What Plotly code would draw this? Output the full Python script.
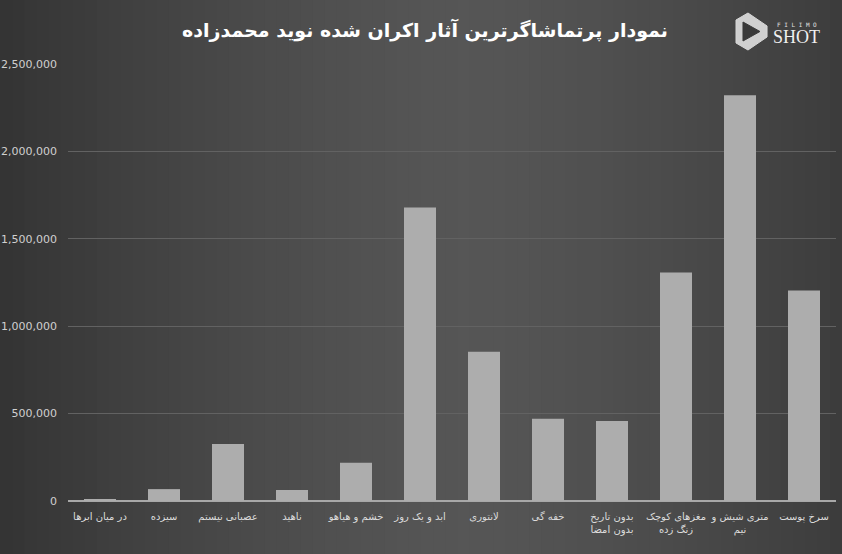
import plotly.graph_objects as go

categories = [
    "در میان ابرها", "سیزده", "عصبانی نیستم", "ناهید", "خشم و هیاهو",
    "ابد و یک روز", "لانتوری", "خفه گی", "بدون تاریخ<br>بدون امضا",
    "مغزهای کوچک<br>زنگ زده", "متری شیش و<br>نیم", "سرخ پوست",
]
audience = [11000, 68000, 326000, 63000, 219000, 1679000, 854000, 470000,
            458000, 1307000, 2321000, 1204000]
y_ticks = [0, 500000, 1000000, 1500000, 2000000, 2500000]
y_tick_labels = ["0", "500,000", "1,000,000", "1,500,000", "2,000,000", "2,500,000"]
title_text = "نمودار پرتماشاگرترین آثار اکران شده نوید محمدزاده"

L, R, T, B = 68, 6, 64, 53
PW, PH = 842 - L - R, 554 - T - B


def px(x):
    return (x - L) / PW


def py(y):
    return (554 - B - y) / PH


fig = go.Figure()
fig.add_trace(go.Bar(
    x=categories, y=audience,
    marker=dict(color="#adadad", line=dict(width=0)),
    width=0.5,
))

# background gradient stripes (dark edges, lighter centre)
shapes = []
n = 70
for i in range(n):
    t = (i + 0.5) / n
    d = abs(t - 0.55) / 0.55
    v = int(86 - 34 * d ** 1.4)
    c = f"rgb({v},{v},{v})"
    shapes.append(dict(type="rect", xref="paper", yref="paper",
                       x0=px(i * 842 / n), x1=px((i + 1) * 842 / n) + 0.002,
                       y0=py(554), y1=py(0),
                       fillcolor=c, line=dict(width=0), layer="below"))


def path(points):
    s = "M " + " L ".join(f"{px(a):.4f},{py(b):.4f}" for a, b in points) + " Z"
    return s


# logo icon (hexagon with play triangle)
shapes.append(dict(type="path", xref="paper", yref="paper",
                   path=path([(736, 20), (748, 13), (767, 26), (767, 37), (748, 50), (736, 43)]),
                   line=dict(color="#d8d8d8", width=1), fillcolor="#d0d0d0", layer="above"))
shapes.append(dict(type="path", xref="paper", yref="paper",
                   path=path([(743, 22), (760, 31.5), (743, 41)]),
                   line=dict(color="#3a3a3a", width=1), fillcolor="#3a3a3a", layer="above"))
fig.update_layout(shapes=shapes)

fig.add_annotation(text="<b>" + title_text + "</b>", xref="paper", yref="paper",
                   x=px(425), y=py(30), xanchor="center", yanchor="middle",
                   showarrow=False, font=dict(family="DejaVu Sans", size=19, color="#ffffff"))
fig.add_annotation(text="F I L I M O", xref="paper", yref="paper",
                   x=px(797), y=py(24), xanchor="center", yanchor="middle",
                   showarrow=False, font=dict(family="DejaVu Sans Mono", size=6, color="#e0e0e0"))
fig.add_annotation(text="SHOT", xref="paper", yref="paper",
                   x=px(796), y=py(37), xanchor="center", yanchor="middle",
                   showarrow=False, font=dict(family="Liberation Serif", size=18, color="#f0f0f0"))

fig.update_layout(
    width=842, height=554,
    margin=dict(l=L, r=R, t=T, b=B, autoexpand=False),
    paper_bgcolor="#444444", plot_bgcolor="rgba(0,0,0,0)",
    showlegend=False, bargap=0.5,
    font=dict(family="DejaVu Sans", color="#d9d9d9", size=11),
    xaxis=dict(showgrid=False, showline=False, ticks="", tickangle=0,
               automargin=False, ticklabelstandoff=8,
               tickfont=dict(size=10, color="#dcdcdc"), fixedrange=True),
    yaxis=dict(range=[0, 2500000], tickvals=y_ticks, ticktext=y_tick_labels,
               showgrid=True, gridcolor="#626262", gridwidth=1,
               zeroline=True, zerolinecolor="#a8a8a8", zerolinewidth=2,
               showline=False, ticks="", ticklabelstandoff=10, automargin=False,
               tickfont=dict(size=11, color="#d0d0d0")),
)

fig.write_html("out.html")
